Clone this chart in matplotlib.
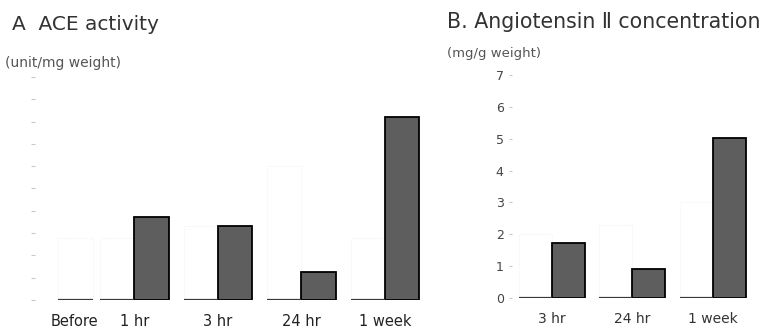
import matplotlib.pyplot as plt
import matplotlib
matplotlib.rcParams['font.family'] = ['DejaVu Sans']

# ── data ───────────────────────────────────────────────────────────────
a_labels  = ["Before", "1 hr", "3 hr", "24 hr", "1 week"]
a_control = [2.8, 2.8, 3.3, 6.0, 2.8]      # white bars (barely visible in scan)
a_treated = [None, 3.7, 3.3, 1.25, 8.2]    # dark bars

b_labels  = ["3 hr", "24 hr", "1 week"]
b_control = [2.0, 2.3, 3.0]
b_treated = [1.72, 0.9, 5.03]
b_ticks   = [0, 1, 2, 3, 4, 5, 6, 7]

W, H = 766, 330
fig = plt.figure(figsize=(W / 100, H / 100), dpi=100)
fig.patch.set_facecolor('white')

def px_axes(x0, y0, x1, y1):
    # pixel box (top-left origin) -> figure fraction axes
    return fig.add_axes([x0 / W, 1 - y1 / H, (x1 - x0) / W, (y1 - y0) / H])

dark = '#5e5e5e'
faint = '#efefef'
bw = 0.41

def draw_pairs(ax, xs, control, treated):
    for x, c, t in zip(xs, control, treated):
        ax.bar(x - bw / 2, c, width=bw, color='white', edgecolor=faint,
               linestyle=':', lw=0.7, zorder=1)
        ax.hlines(0, x - bw, x, color='#3a3a3a', lw=1.6, zorder=3)
        if t is not None:
            ax.bar(x + bw / 2, t, width=bw, color=dark, edgecolor='black',
                   lw=1.3, zorder=2)

# ── panel A ────────────────────────────────────────────────────────────
axA = px_axes(35, 77, 420, 300)
xa = [-0.5, 0, 1, 2, 3]
draw_pairs(axA, xa, a_control, a_treated)
axA.set_xlim(-1.19, 3.42)
axA.set_ylim(0, 10)
for s in axA.spines.values():
    s.set_visible(False)
axA.set_yticks(range(0, 11))
axA.tick_params(axis='y', length=3, color='#c8c8c8', labelleft=False)
xa_lab = [xa[0] - 0.22] + xa[1:]
axA.set_xticks(xa_lab)
axA.set_xticklabels(a_labels, fontsize=10.5, color='#222222')
axA.tick_params(axis='x', length=0, pad=10)

fig.text(12 / W, 1 - 24 / H, "A  ACE activity", fontsize=14.5, color='#333333',
         va='center', ha='left')
fig.text(5 / W, 1 - 63 / H, "(unit/mg weight)", fontsize=10, color='#555555',
         va='center', ha='left')

# ── panel B ────────────────────────────────────────────────────────────
axB = px_axes(512, 75, 757, 298)
xb = [0, 1, 2]
draw_pairs(axB, xb, b_control, b_treated)
axB.set_xlim(-0.497, 2.55)
axB.set_ylim(0, 7)
for s in axB.spines.values():
    s.set_visible(False)
axB.set_yticks(b_ticks)
axB.set_yticklabels([str(t) for t in b_ticks], fontsize=9, color='#444444')
axB.tick_params(axis='y', length=2, color='#c8c8c8', pad=4)
axB.set_xticks(xb)
axB.set_xticklabels(b_labels, fontsize=10, color='#333333')
axB.tick_params(axis='x', length=0, pad=10)

fig.text(447 / W, 1 - 22 / H, "B. Angiotensin \u2161 concentration", fontsize=14.8,
         color='#333333', va='center', ha='left')
fig.text(447 / W, 1 - 53 / H, "(mg/g weight)", fontsize=9.5, color='#555555',
         va='center', ha='left')

plt.savefig('out.png', dpi=100, facecolor='white')
